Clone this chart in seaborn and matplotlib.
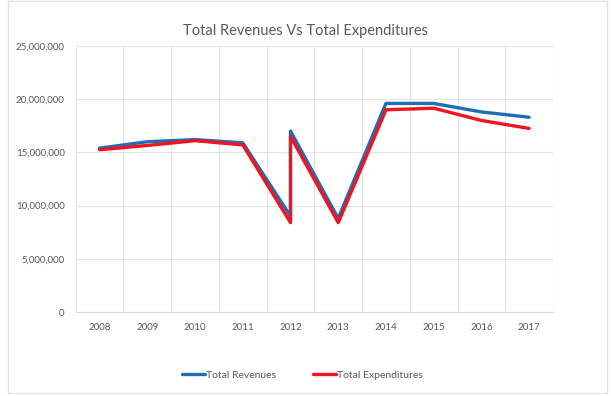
import matplotlib
matplotlib.use("Agg")
import matplotlib.pyplot as plt
import seaborn as sns
import pandas as pd
import numpy as np
from matplotlib.ticker import FuncFormatter, FixedLocator
from matplotlib.patches import Rectangle
from matplotlib.lines import Line2D

years = [2008, 2009, 2010, 2011, 2012, 2012, 2013, 2014, 2015, 2016, 2017]
revenues = [15400000, 16000000, 16200000, 15900000, 9000000, 17000000, 8800000, 19600000, 19600000, 18800000, 18300000]
expenditures = [15250000, 15650000, 16100000, 15700000, 8400000, 16500000, 8400000, 19000000, 19150000, 18000000, 17250000]
year_labels = ["2008", "2009", "2010", "2011", "2012", "2013", "2014", "2015", "2016", "2017"]
title = "Total Revenues Vs Total Expenditures"

order = list(range(len(years)))
df = pd.DataFrame({
    "Year": years * 2,
    "Value": revenues + expenditures,
    "Series": ["Total Revenues"] * len(years) + ["Total Expenditures"] * len(years),
    "Order": order * 2,
})

sns.set_style("white")
plt.rcParams["font.family"] = ["Lato", "DejaVu Sans"]

fig = plt.figure(figsize=(6.11, 3.96), dpi=100)
ax = fig.add_axes([0.124, 0.212, 0.781, 0.672])

sns.lineplot(data=df, x="Year", y="Value", hue="Series", sort=False, estimator=None,
             units="Series", palette={"Total Revenues": "#1f6db5", "Total Expenditures": "#f0141e"},
             linewidth=2.4, ax=ax, legend=False)

ax.set_xlim(2007.5, 2017.5)
ax.set_ylim(0, 25000000)
ax.yaxis.set_major_locator(FixedLocator(np.arange(0, 25000001, 5000000)))
ax.yaxis.set_major_formatter(FuncFormatter(lambda v, p: f"{int(v):,}"))
ax.xaxis.set_major_locator(FixedLocator([int(y) for y in year_labels]))
ax.set_xticklabels(year_labels)
ax.xaxis.set_minor_locator(FixedLocator(np.arange(2007.5, 2017.6, 1.0)))
ax.grid(True, which="minor", axis="x", color="#e4e4e4", linewidth=0.8)
ax.grid(True, which="major", axis="y", color="#e4e4e4", linewidth=0.8)
ax.set_axisbelow(True)
ax.tick_params(axis="both", which="both", length=0, labelsize=7, colors="#595959", pad=8)
for s in ["top", "right", "left"]:
    ax.spines[s].set_visible(False)
ax.spines["bottom"].set_color("#d9d9d9")
ax.set_xlabel("")
ax.set_ylabel("")

fig.text(0.5, 0.922, title, ha="center", va="center", fontsize=10.5, color="#595959")

handles = [Line2D([], [], color="#1f6db5", linewidth=2.4),
           Line2D([], [], color="#f0141e", linewidth=2.4)]
fig.legend(handles, ["Total Revenues", "Total Expenditures"], loc="center",
           bbox_to_anchor=(0.495, 0.052), ncol=2, frameon=False, fontsize=7.5,
           handlelength=2.2, handletextpad=0.1, columnspacing=3.5, labelcolor="#595959")

fig.patches.append(Rectangle((0.013, 0.008), 0.98, 0.99, transform=fig.transFigure,
                             fill=False, edgecolor="#e0e0e0", linewidth=1))

fig.savefig("out.png", dpi=100)
